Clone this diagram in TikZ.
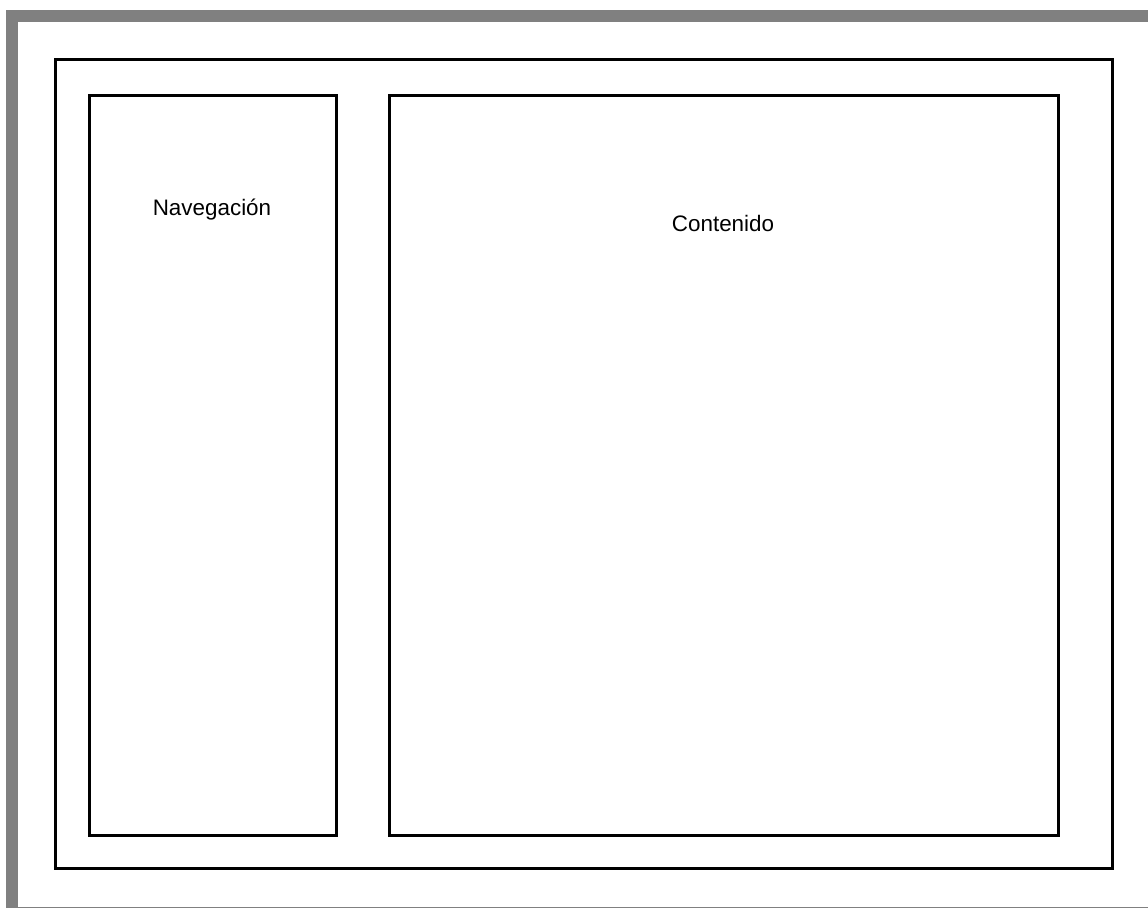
\documentclass[tikz,border=0pt]{standalone}
\usepackage{fontspec}
\setmainfont{Liberation Sans}
\begin{document}
\begin{tikzpicture}[x=1bp,y=-1bp,
  panel/.style={draw=black,line width=3bp,fill=none},
  lbl/.style={font=\fontsize{22.5}{26}\selectfont,inner sep=0pt}]
\useasboundingbox[fill=white] (0,0) rectangle (1148,908);
\definecolor{grayframe}{RGB}{128,128,128}
\fill[grayframe] (6,10) rectangle (1148,22);
\fill[grayframe] (6,10) rectangle (18,907);
\fill[grayframe] (6,906.5) rectangle (1148,907.5);
\draw[panel] (55,59) rectangle (1112.5,868.5);
\draw[panel] (89,95) rectangle (336,835);
\draw[panel] (389,95) rectangle (1058,835);
\node[lbl] (navlbl) at (212,210) {Navegación};
\node[lbl] (contlbl) at (723,223) {Contenido};
\end{tikzpicture}
\end{document}
